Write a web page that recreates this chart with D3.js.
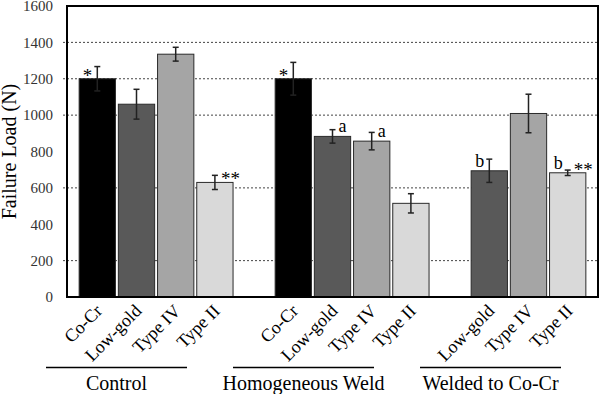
<!DOCTYPE html>
<html lang="en">
<head>
    <meta charset="utf-8">
    <script src="https://d3js.org/d3.v7.min.js"></script>
    <style>
        body { margin: 0; background: #fff; }
        svg text { font-family: "Liberation Serif", "Times New Roman", serif; }
    </style>
</head>
<body>
    <div id="chart"></div>
    <script>
        // groups and materials along the x axis
        var groups = ["Control", "Homogeneous Weld", "Welded to Co-Cr"];
        var materials = ["Co-Cr", "Low-gold", "Type IV", "Type II"];

        // mean failure load (N) and error per group, in material order (null = not tested)
        var controlMeans = [1200, 1060, 1335, 630];
        var controlErr = [67, 82, 38, 39];
        var homMeans = [1200, 883, 857, 515];
        var homErr = [90, 37, 48, 53];
        var weldMeans = [null, 694, 1009, 683];
        var weldErr = [null, 64, 106, 15];

        var yTicks = [0, 200, 400, 600, 800, 1000, 1200, 1400, 1600];
        var gridValues = [200, 600, 1000, 1200, 1400];

        var colors = ["#000000", "#595959", "#a5a5a5", "#d9d9d9"];

        // significance marks above bars
        var notes = [
            { group: "Control", mat: "Co-Cr", text: "*", side: "left" },
            { group: "Control", mat: "Type II", text: "**", side: "right" },
            { group: "Homogeneous Weld", mat: "Co-Cr", text: "*", side: "left" },
            { group: "Homogeneous Weld", mat: "Low-gold", text: "a", side: "right" },
            { group: "Homogeneous Weld", mat: "Type IV", text: "a", side: "right" },
            { group: "Welded to Co-Cr", mat: "Low-gold", text: "b", side: "left" },
            { group: "Welded to Co-Cr", mat: "Type II", text: "b", side: "left" },
            { group: "Welded to Co-Cr", mat: "Type II", text: "**", side: "right" }
        ];

        var width = 600,
            height = 394,
            margin = { top: 6, right: 2, bottom: 97, left: 67 };
        var font = "Liberation Serif";

        // build bar rows and the slot domain (with a blank slot between groups)
        var allMeans = [controlMeans, homMeans, weldMeans];
        var allErr = [controlErr, homErr, weldErr];
        var bars = [];
        var slots = [];
        groups.forEach(function(g, gi) {
            if (gi > 0) slots.push("gap" + gi);
            materials.forEach(function(m, mi) {
                if (allMeans[gi][mi] == null) return;
                var key = g + "|" + m;
                slots.push(key);
                bars.push({ key: key, group: g, mat: m, mi: mi, value: allMeans[gi][mi], err: allErr[gi][mi] });
            });
        });

        var x = d3.scaleBand()
            .domain(slots)
            .range([margin.left, width - margin.right])
            .paddingInner(0.074)
            .paddingOuter(0.31);

        var y = d3.scaleLinear()
            .domain([0, 1600])
            .range([height - margin.bottom, margin.top]);

        var svg = d3.select("#chart").append("svg")
            .attr("width", width)
            .attr("height", height)
            .attr("font-family", font);

        // dotted gridlines
        svg.append("g")
            .selectAll("line")
            .data(gridValues)
            .join("line")
            .attr("x1", margin.left - 4)
            .attr("x2", width - margin.right)
            .attr("y1", d => y(d))
            .attr("y2", d => y(d))
            .attr("stroke", "#444")
            .attr("stroke-width", 1)
            .attr("stroke-dasharray", "2,2");

        // bars
        svg.append("g")
            .selectAll("rect")
            .data(bars)
            .join("rect")
            .attr("x", d => x(d.key))
            .attr("y", d => y(d.value))
            .attr("width", x.bandwidth())
            .attr("height", d => y(0) - y(d.value))
            .attr("fill", d => colors[d.mi])
            .attr("stroke", "#2a2a2a")
            .attr("stroke-width", 1);

        // error bars
        var eb = svg.append("g")
            .attr("stroke", "#222")
            .attr("stroke-width", 1.5)
            .selectAll("g")
            .data(bars)
            .join("g")
            .attr("transform", d => `translate(${x(d.key) + x.bandwidth() / 2},0)`);
        eb.append("line")
            .attr("y1", d => y(d.value - d.err))
            .attr("y2", d => y(d.value + d.err));
        eb.append("line")
            .attr("x1", -3).attr("x2", 3)
            .attr("y1", d => y(d.value + d.err))
            .attr("y2", d => y(d.value + d.err));
        eb.append("line")
            .attr("x1", -3).attr("x2", 3)
            .attr("y1", d => y(d.value - d.err))
            .attr("y2", d => y(d.value - d.err));

        // plot frame
        svg.append("rect")
            .attr("x", margin.left)
            .attr("y", y(1600))
            .attr("width", width - margin.right - margin.left)
            .attr("height", y(0) - y(1600))
            .attr("fill", "none")
            .attr("stroke", "#000")
            .attr("stroke-width", 2);

        // y axis
        svg.append("g")
            .attr("transform", `translate(${margin.left},0)`)
            .call(d3.axisLeft(y).tickValues(yTicks).tickFormat(d3.format("d")).tickSize(0).tickPadding(14))
            .call(g => g.attr("font-family", font))
            .call(g => g.select(".domain").remove())
            .call(g => g.selectAll("text")
                .attr("font-size", 15)
                .attr("fill", "#333"));

        svg.append("text")
            .attr("transform", `translate(16,${(y(0) + y(1600)) / 2}) rotate(-90)`)
            .attr("text-anchor", "middle")
            .attr("font-size", 20)
            .text("Failure Load (N)");

        // x axis category labels
        var barByKey = new Map(bars.map(d => [d.key, d]));
        svg.append("g")
            .attr("transform", `translate(0,${y(0)})`)
            .call(d3.axisBottom(x).tickSize(0).tickFormat(k => barByKey.has(k) ? barByKey.get(k).mat : ""))
            .call(g => g.attr("font-family", font))
            .call(g => g.select(".domain").remove())
            .call(g => g.selectAll("text")
                .attr("font-size", 18)
                .attr("fill", "#000")
                .attr("x", 0)
                .attr("y", 0)
                .attr("dy", 0)
                .attr("text-anchor", "end")
                .attr("transform", "translate(6,15) rotate(-45)"));

        // group underlines and labels
        var gx = d3.scaleBand()
            .domain(groups)
            .range([46, 561])
            .paddingInner(0.246);

        svg.append("g")
            .selectAll("line")
            .data(groups)
            .join("line")
            .attr("x1", d => gx(d))
            .attr("x2", d => gx(d) + gx.bandwidth())
            .attr("y1", 367.5)
            .attr("y2", 367.5)
            .attr("stroke", "#000")
            .attr("stroke-width", 1.5);

        svg.append("g")
            .selectAll("text")
            .data(groups)
            .join("text")
            .attr("x", d => gx(d) + gx.bandwidth() / 2)
            .attr("y", 390)
            .attr("text-anchor", "middle")
            .attr("font-size", 20)
            .text(d => d);

        // significance marks
        svg.append("g")
            .selectAll("text")
            .data(notes)
            .join("text")
            .attr("x", d => {
                var c = x(d.group + "|" + d.mat) + x.bandwidth() / 2;
                return d.side === "left" ? c - 5 : c + 6;
            })
            .attr("y", d => {
                var b = barByKey.get(d.group + "|" + d.mat);
                return d.text.indexOf("*") >= 0 ? y(b.value) + 3 : y(b.value) - 4;
            })
            .attr("text-anchor", d => d.side === "left" ? "end" : "start")
            .attr("font-size", d => d.text.indexOf("*") >= 0 ? 19 : 18)
            .text(d => d.text);
    </script>
</body>
</html>
